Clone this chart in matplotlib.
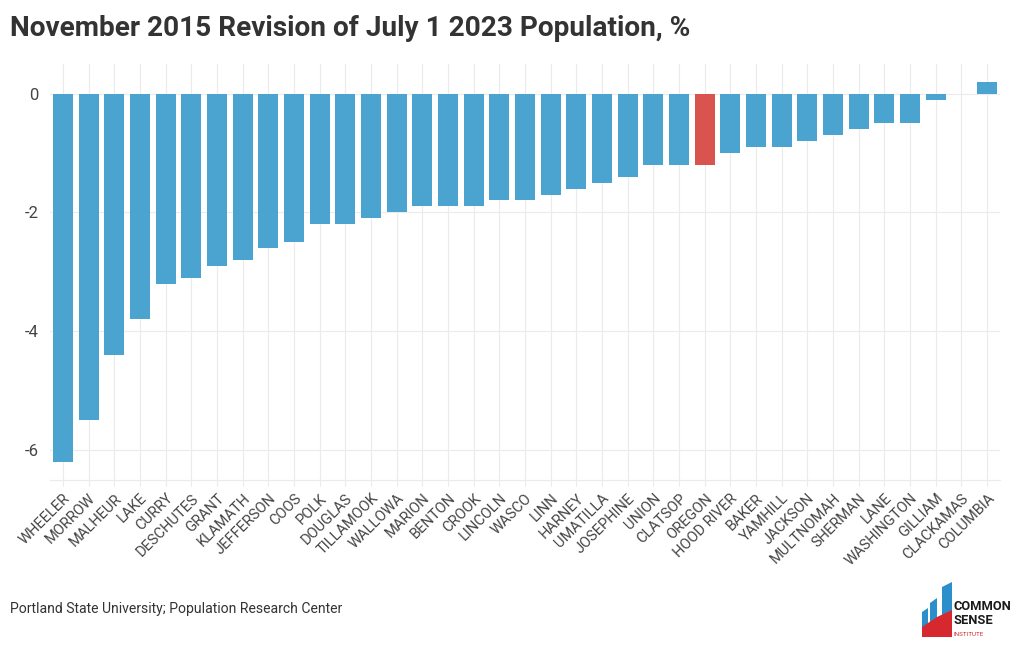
import numpy as np
import matplotlib.pyplot as plt
from matplotlib.patches import Polygon

plt.rcParams['font.family'] = ['Roboto', 'DejaVu Sans']

counties = ['WHEELER', 'MORROW', 'MALHEUR', 'LAKE', 'CURRY', 'DESCHUTES', 'GRANT',
            'KLAMATH', 'JEFFERSON', 'COOS', 'POLK', 'DOUGLAS', 'TILLAMOOK', 'WALLOWA',
            'MARION', 'BENTON', 'CROOK', 'LINCOLN', 'WASCO', 'LINN', 'HARNEY',
            'UMATILLA', 'JOSEPHINE', 'UNION', 'CLATSOP', 'OREGON', 'HOOD RIVER',
            'BAKER', 'YAMHILL', 'JACKSON', 'MULTNOMAH', 'SHERMAN', 'LANE',
            'WASHINGTON', 'GILLIAM', 'CLACKAMAS', 'COLUMBIA']
revision = [-6.2, -5.5, -4.4, -3.8, -3.2, -3.1, -2.9,
            -2.8, -2.6, -2.5, -2.2, -2.2, -2.1, -2.0,
            -1.9, -1.9, -1.9, -1.8, -1.8, -1.7, -1.6,
            -1.5, -1.4, -1.2, -1.2, -1.2, -1.0,
            -0.9, -0.9, -0.8, -0.7, -0.6, -0.5,
            -0.5, -0.1, 0.0, 0.2]

BLUE = '#4ba3cf'
RED = '#d9534f'
W, H = 1020, 650

fig = plt.figure(figsize=(W / 100, H / 100), dpi=100)
ax = fig.add_axes([50 / W, 1 - 480 / H, 950 / W, 416 / H])

x = np.arange(len(counties))
colors = [RED if c == 'OREGON' else BLUE for c in counties]
ax.bar(x, revision, width=0.78, color=colors, zorder=3)

ax.set_xlim(-0.5, len(counties) - 0.5)
ax.set_ylim(-6.51, 0.5)
ax.set_yticks([0, -2, -4, -6])
ax.set_yticklabels(['0', '-2', '-4', '-6'])
ax.set_xticks(x)
ax.set_xticklabels(counties, rotation=45, ha='right', rotation_mode='anchor')

ax.grid(True, color='#ebebeb', linewidth=0.8, zorder=0)
for s in ['top', 'right', 'left']:
    ax.spines[s].set_visible(False)
ax.spines['bottom'].set_color('#ebebeb')
ax.spines['bottom'].set_linewidth(0.8)
ax.tick_params(axis='y', length=0, labelsize=12, labelcolor='#444444', pad=8)
ax.tick_params(axis='x', length=4, color='#ebebeb', labelsize=10.5,
               labelcolor='#444444', pad=4)

fig.text(10 / W, 1 - 28 / H, 'November 2015 Revision of July 1 2023 Population, %',
         fontsize=20.2, fontweight='bold', color='#333333', va='center', ha='left')
fig.text(10 / W, 1 - 609 / H, 'Portland State University; Population Research Center',
         fontsize=10.1, color='#333333', va='center', ha='left')


# logo (approximate)
def px(pts):
    return [(a / W, 1 - b / H) for a, b in pts]


logo_parts = [
    ([(922, 612), (928, 608), (928, 627), (922, 627)], '#2a8fcb'),
    ([(930, 603), (937, 598), (937, 627), (930, 627)], '#2a8fcb'),
    ([(942, 587), (952, 582), (952, 627), (942, 627)], '#2a8fcb'),
    ([(922, 637), (922, 627), (937, 617), (952, 610), (952, 637)], '#d7282f'),
]
for pts, c in logo_parts:
    fig.patches.append(Polygon(px(pts), closed=True, transform=fig.transFigure,
                               facecolor=c, edgecolor='none'))
fig.text(954 / W, 1 - 606 / H, 'COMMON', fontsize=9.3, fontweight='bold',
         color='#1a1a1a', va='center', ha='left')
fig.text(954 / W, 1 - 621 / H, 'SENSE', fontsize=9.3, fontweight='bold',
         color='#1a1a1a', va='center', ha='left')
fig.text(954 / W, 1 - 634 / H, 'INSTITUTE', fontsize=4.5, color='#d7282f',
         va='center', ha='left')

fig.savefig('out.png', dpi=100, facecolor='white')
